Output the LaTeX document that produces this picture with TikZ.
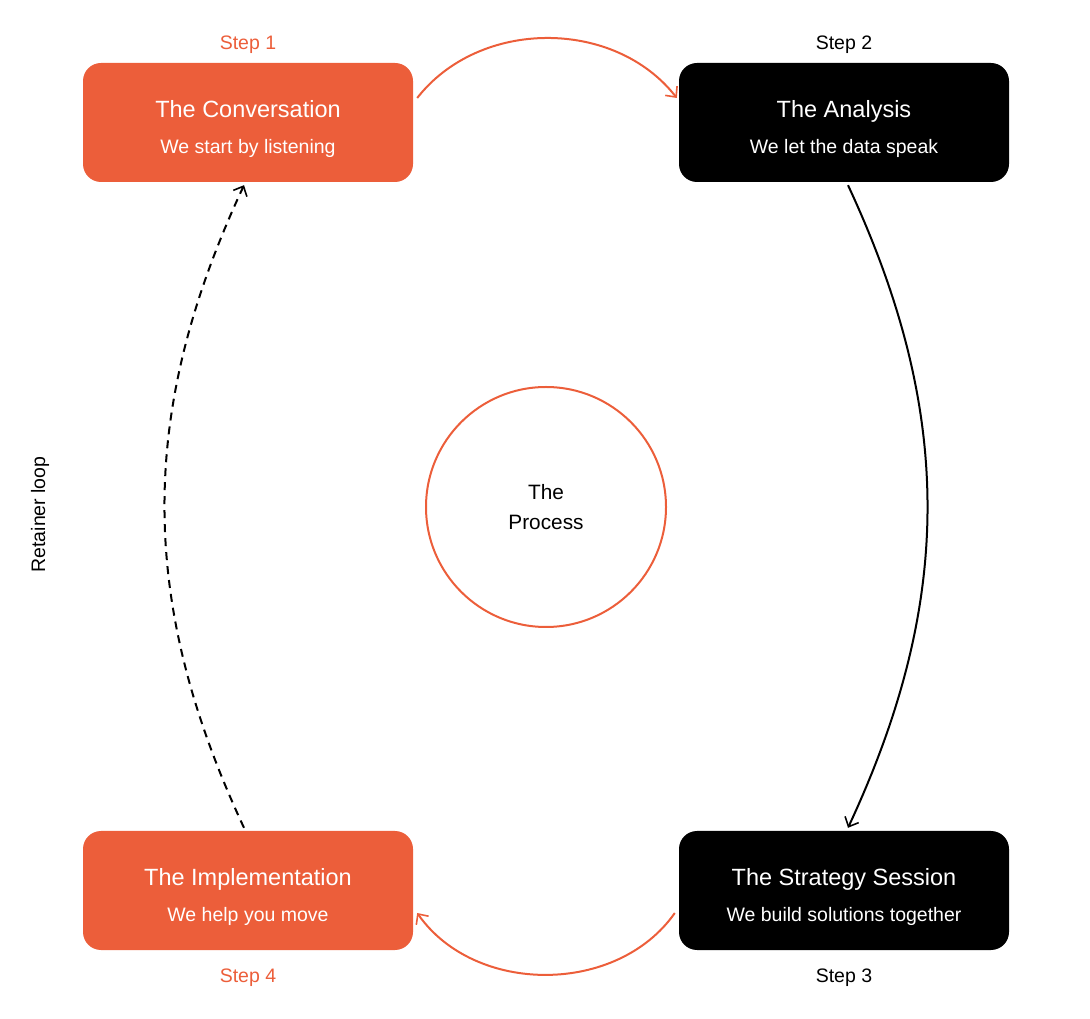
\documentclass[tikz,border=0pt]{standalone}
\usepackage{fontspec}
\setmainfont{Liberation Sans}
\usetikzlibrary{arrows.meta}
\definecolor{brand}{HTML}{EC5E3A}
\begin{document}
\begin{tikzpicture}[x=1pt,y=1pt,
  stepbox/.style={rounded corners=18pt, minimum width=330pt, minimum height=119pt, inner sep=0pt},
  orangebox/.style={stepbox, fill=brand},
  blackbox/.style={stepbox, fill=black},
  titletext/.style={anchor=base, text=white, inner sep=0pt, font=\fontsize{23.5}{26}\selectfont},
  subtext/.style={anchor=base, text=white, inner sep=0pt, font=\fontsize{19.5}{22}\selectfont},
  steplabel/.style={font=\fontsize{19.5}{22}\selectfont},
  tip/.style={-{Straight Barb[length=8pt,width=15pt,line width=1.6pt]}},
  conn/.style={line width=2pt, tip}
]
\useasboundingbox (0,0) rectangle (1090,1018);

\node[orangebox] (conv) at (248,895.5) {};
\node[blackbox] (anal) at (844,895.5) {};
\node[blackbox] (strat) at (844,127.5) {};
\node[orangebox] (impl) at (248,127.5) {};

\node[titletext] (convt) at ([yshift=4.8pt]conv.center) {The Conversation};
\node[subtext] (convs) at ([yshift=-30.8pt]conv.center) {We start by listening};
\node[titletext] (analt) at ([yshift=4.8pt]anal.center) {The Analysis};
\node[subtext] (anals) at ([yshift=-30.8pt]anal.center) {We let the data speak};
\node[titletext] (stratt) at ([yshift=4.8pt]strat.center) {The Strategy Session};
\node[subtext] (strats) at ([yshift=-30.8pt]strat.center) {We build solutions together};
\node[titletext] (implt) at ([yshift=4.8pt]impl.center) {The Implementation};
\node[subtext] (impls) at ([yshift=-30.8pt]impl.center) {We help you move};

\node[steplabel, text=brand] (s1) at (248,973) {Step 1};
\node[steplabel] (s2) at (844,973) {Step 2};
\node[steplabel] (s3) at (844,40) {Step 3};
\node[steplabel, text=brand] (s4) at (248,40) {Step 4};

\node[circle, draw=brand, line width=2pt, minimum size=240pt, align=center, font=\fontsize{20.8}{30}\selectfont] (proc) at (546,511) {The\\Process};

\node[rotate=90, font=\fontsize{19.5}{22}\selectfont] (ret) at (40,503.5) {Retainer loop};

\draw[conn, brand] ([xshift=4pt,yshift=24.5pt]conv.east) to[bend left=52] ([xshift=-2pt,yshift=24.5pt]anal.west);
\draw[conn, black] ([xshift=4pt,yshift=-3pt]anal.south) to[bend left=25] ([xshift=4pt,yshift=3pt]strat.north);
\draw[conn, brand] ([xshift=-4pt,yshift=-22.5pt]strat.west) to[bend left=55] ([xshift=4pt,yshift=-22.5pt]impl.east);
\draw[conn, black, dash pattern=on 8pt off 6pt] ([xshift=-4pt,yshift=3pt]impl.north) to[bend left=25] ([xshift=-4pt,yshift=-3pt]conv.south);
\end{tikzpicture}
\end{document}
